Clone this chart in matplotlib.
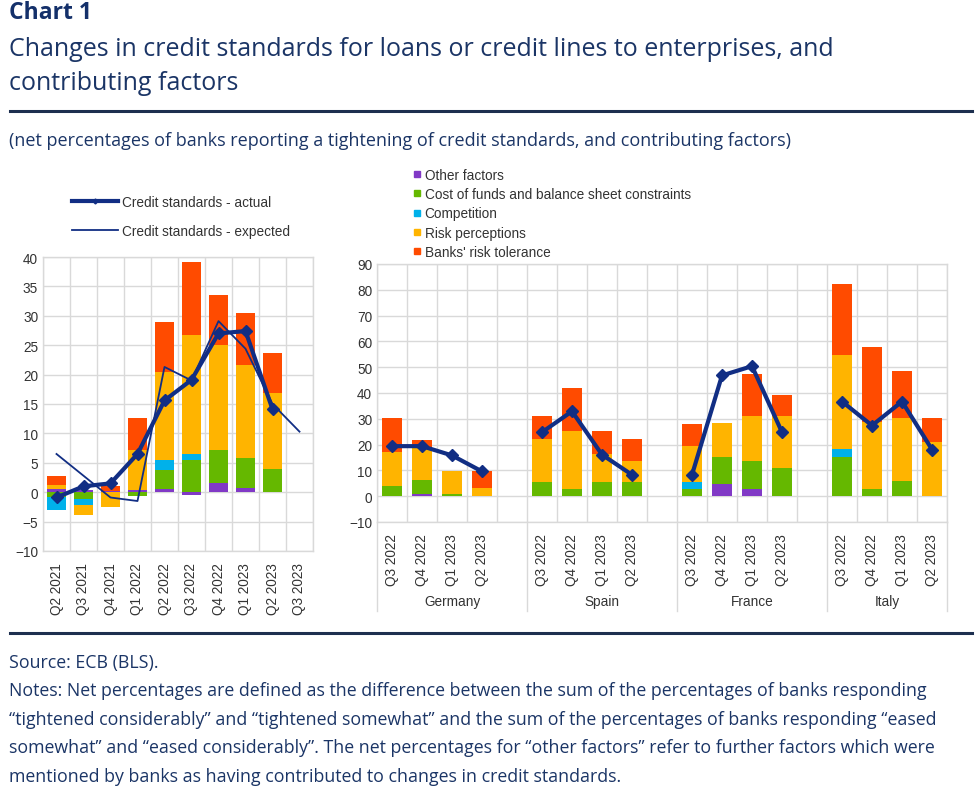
import numpy as np
import matplotlib
matplotlib.use("Agg")
import matplotlib.pyplot as plt
from matplotlib.lines import Line2D

# ---------------- data ----------------
left_cats = ['Q2 2021', 'Q3 2021', 'Q4 2021', 'Q1 2022', 'Q2 2022',
             'Q3 2022', 'Q4 2022', 'Q1 2023', 'Q2 2023', 'Q3 2023']
left_other = [0.5, 0.3, 0.2, 0.4, 0.5, -0.4, 1.5, 0.7, 0.0, np.nan]
left_cost = [-0.8, -1.2, 0.0, -0.7, 3.2, 5.4, 5.6, 5.1, 4.0, np.nan]
left_comp = [-2.3, -1.0, 0.0, 0.0, 1.7, 1.1, 0.0, 0.0, 0.0, np.nan]
left_risk = [0.7, -1.6, -2.6, 6.7, 15.1, 20.3, 18.0, 15.8, 12.9, np.nan]
left_tol = [1.5, 0.0, 0.9, 5.5, 8.5, 12.4, 8.4, 8.8, 6.8, np.nan]
left_actual = [-0.9, 1.0, 1.5, 6.5, 15.6, 19.1, 27.0, 27.4, 14.1, np.nan]
left_expected = [6.5, 2.8, -0.9, -1.5, 21.3, 19.0, 29.1, 24.4, 15.0, 10.3]

countries = ['Germany', 'Spain', 'France', 'Italy']
quarters = ['Q3 2022', 'Q4 2022', 'Q1 2023', 'Q2 2023']
right_other = {'Germany': [0, 0.9, 0, 0], 'Spain': [0, 0, 0, 0],
               'France': [0, 4.8, 2.6, 0], 'Italy': [0, 0, 0, 0]}
right_cost = {'Germany': [4.1, 5.4, 0.9, 0], 'Spain': [5.4, 2.6, 5.4, 5.4],
              'France': [2.6, 10.3, 11.2, 11.0], 'Italy': [15.1, 2.8, 5.8, 0]}
right_comp = {'Germany': [0, 0, 0, 0], 'Spain': [0, 0, 0, 0],
              'France': [2.8, 0, 0, 0], 'Italy': [3.2, 0, 0, 0]}
right_risk = {'Germany': [13.2, 12.4, 9.0, 3.1], 'Spain': [16.8, 22.5, 11.0, 8.4],
              'France': [14.0, 13.3, 17.1, 19.9], 'Italy': [36.5, 25.9, 24.6, 20.9]}
right_tol = {'Germany': [12.9, 2.9, 0, 6.8], 'Spain': [8.7, 16.8, 8.7, 8.4],
             'France': [8.4, 0, 16.3, 8.4], 'Italy': [27.5, 29.1, 18.3, 9.3]}
right_actual = {'Germany': [19.4, 19.4, 15.8, 9.6], 'Spain': [24.8, 32.9, 16.1, 8.3],
                'France': [8.3, 46.8, 50.4, 24.8], 'Italy': [36.7, 27.4, 36.7, 18.1]}

factor_names = ['Other factors', 'Cost of funds and balance sheet constraints',
                'Competition', 'Risk perceptions', "Banks' risk tolerance"]
factor_colors = ['#8139c6', '#65b800', '#00b1ea', '#ffb400', '#ff4b00']
line_color = '#112e84'
grid_color = '#d9d9d9'
navy = '#1b3566'

plt.rcParams['font.family'] = ['Liberation Sans', 'DejaVu Sans']

fig = plt.figure(figsize=(9.8, 8.12), dpi=100)
W, H = 980, 812


def fx(px):
    return px / W


def fy(py):
    return 1 - py / H


def stacked(ax, x, series, width):
    series = [np.asarray(s, dtype=float) for s in series]
    pos = np.zeros(len(x))
    neg = np.zeros(len(x))
    for vals, col in zip(series, factor_colors):
        v = np.nan_to_num(vals)
        p = np.where(v > 0, v, 0)
        n = np.where(v < 0, v, 0)
        ax.bar(x, p, width, bottom=pos, color=col, linewidth=0, zorder=2)
        ax.bar(x, n, width, bottom=neg, color=col, linewidth=0, zorder=2)
        pos += p
        neg += n


def style_axes(ax):
    for s in ax.spines.values():
        s.set_color(grid_color)
        s.set_linewidth(1)
    ax.tick_params(axis='both', length=0, colors='#333333', labelsize=9.8)
    ax.grid(False)


# ---------------- left panel ----------------
axL = fig.add_axes([fx(43), fy(552), fx(313) - fx(43), fy(258) - fy(552)])
xl = np.arange(len(left_cats))
stacked(axL, xl, [left_other, left_cost, left_comp, left_risk, left_tol], 0.67)
axL.plot(xl, left_expected, color=line_color, lw=1.3, zorder=3)
axL.plot(xl, left_actual, color=line_color, lw=3, marker='D', ms=6, zorder=4)
axL.set_xlim(-0.5, len(left_cats) - 0.5)
axL.set_ylim(-10, 40)
axL.set_yticks(np.arange(-10, 41, 5))
for yv in np.arange(-10, 41, 5):
    axL.axhline(yv, color=grid_color, lw=1, zorder=0)
for k in range(len(left_cats) + 1):
    axL.axvline(k - 0.5, color=grid_color, lw=1, zorder=0)
axL.set_xticks(xl)
axL.set_xticklabels(left_cats, rotation=90)
style_axes(axL)
axL.tick_params(axis='x', pad=8)

# ---------------- right panel ----------------
axR = fig.add_axes([fx(377), fy(523), fx(947) - fx(377), fy(265) - fy(523)])
nslots = len(countries) * (len(quarters) + 1) - 1
xpos, xlabels = [], []
for g, c in enumerate(countries):
    xs = np.arange(len(quarters)) + g * (len(quarters) + 1)
    stacked(axR, xs, [right_other[c], right_cost[c], right_comp[c],
                      right_risk[c], right_tol[c]], 0.67)
    axR.plot(xs, right_actual[c], color=line_color, lw=3, marker='D', ms=6, zorder=4)
    xpos.extend(xs)
    xlabels.extend(quarters)
    gx0 = g * (len(quarters) + 1) - 0.5
    gx1 = min(gx0 + len(quarters) + 1, nslots - 0.5)
    axR.text((gx0 + gx1) / 2, -0.305, c, transform=axR.get_xaxis_transform(),
             ha='center', va='center', fontsize=9.8, color='#333333')
    axR.plot([gx0, gx0], [0, -0.345], transform=axR.get_xaxis_transform(),
             color=grid_color, lw=1, clip_on=False)
axR.plot([nslots - 0.5] * 2, [0, -0.345], transform=axR.get_xaxis_transform(),
         color=grid_color, lw=1, clip_on=False)
axR.set_xlim(-0.5, nslots - 0.5)
axR.set_ylim(-10, 90)
axR.set_yticks(np.arange(-10, 91, 10))
for yv in np.arange(-10, 91, 10):
    axR.axhline(yv, color=grid_color, lw=1, zorder=0)
for k in range(nslots + 1):
    axR.axvline(k - 0.5, color=grid_color, lw=1, zorder=0)
axR.set_xticks(xpos)
axR.set_xticklabels(xlabels, rotation=90)
style_axes(axR)
axR.tick_params(axis='x', pad=8)

# ---------------- legends ----------------
line_handles = [Line2D([], [], color=line_color, lw=3, marker='D', ms=2.5),
                Line2D([], [], color=line_color, lw=1.3)]
fig.legend(line_handles, ['Credit standards - actual', 'Credit standards - expected'],
           loc='upper left', bbox_to_anchor=(fx(72), fy(196)), frameon=False,
           handlelength=3.4, handletextpad=0.3, labelspacing=1.12,
           fontsize=9.8, labelcolor='#333333', borderaxespad=0, borderpad=0)

bar_handles = [Line2D([], [], color=c, marker='s', ms=4.5, lw=0) for c in factor_colors]
fig.legend(bar_handles, factor_names, loc='upper left',
           bbox_to_anchor=(fx(411), fy(169)), frameon=False,
           handlelength=0.9, handletextpad=0.1, labelspacing=0.38,
           fontsize=9.8, labelcolor='#333333', borderaxespad=0, borderpad=0)

# ---------------- texts ----------------
tfont = ['Open Sans', 'DejaVu Sans']
fig.text(fx(9), fy(13), 'Chart 1', family=tfont, fontweight='bold', fontsize=16.5,
         color='#14306a', va='center', ha='left')
fig.text(fx(9), fy(49), 'Changes in credit standards for loans or credit lines to enterprises, and',
         family=tfont, fontsize=18, color=navy, va='center', ha='left')
fig.text(fx(9), fy(83), 'contributing factors',
         family=tfont, fontsize=18, color=navy, va='center', ha='left')
fig.add_artist(Line2D([fx(10), fx(972)], [fy(112), fy(112)], color='#1d2f4f', lw=2.2))
fig.text(fx(9), fy(141),
         '(net percentages of banks reporting a tightening of credit standards, and contributing factors)',
         family=tfont, fontsize=13, color=navy, va='center', ha='left')
fig.add_artist(Line2D([fx(10), fx(972)], [fy(634), fy(634)], color='#1d2f4f', lw=2.2))
notes = ['Source: ECB (BLS).',
         'Notes: Net percentages are defined as the difference between the sum of the percentages of banks responding',
         '\u201ctightened considerably\u201d and \u201ctightened somewhat\u201d and the sum of the percentages of banks responding \u201ceased',
         'somewhat\u201d and \u201ceased considerably\u201d. The net percentages for \u201cother factors\u201d refer to further factors which were',
         'mentioned by banks as having contributed to changes in credit standards.']
for i, t in enumerate(notes):
    fig.text(fx(9), fy(663 + 28.5 * i), t, family=tfont, fontsize=12.8,
             color=navy, va='center', ha='left')

fig.savefig('out.png', dpi=100, facecolor='white')
